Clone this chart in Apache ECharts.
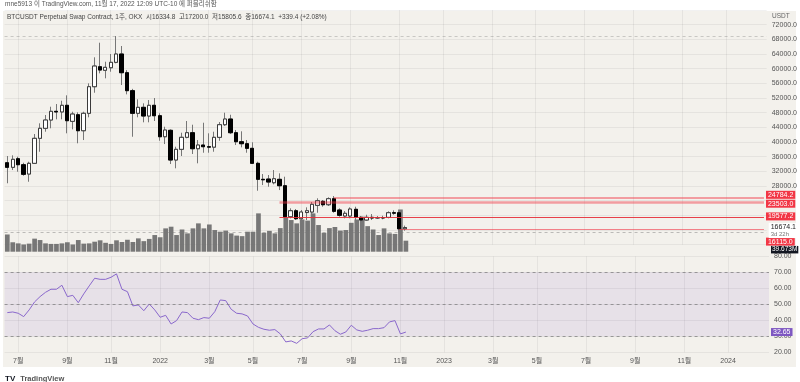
<!DOCTYPE html>
<html><head><meta charset="utf-8">
<script src="https://cdn.jsdelivr.net/npm/echarts@6/dist/echarts.min.js"></script>
<style>html,body{margin:0;padding:0;background:#fff}#c{width:800px;height:382px}</style>
</head><body><div id="c"></div>
<script>
// ---- data (weekly BTCUSDT perpetual, OKX) ----
const firstWeek = [2021, 5, 21];   // Monday 2021-06-21 (month 0-based)
const totalWeeks = 140;            // visible weekly slots incl. empty future
const opens  = [34350,33100,35450,33810,31270,34190,41010,43740,46000,48370,48200,50010,45640,47440,43080,47830,55080,60530,59550,60260,61730,64000,58900,54000,47830,49460,47090,50010,47170,41440,43190,35090,38010,41280,42540,38170,39180,38720,38600,41280,44720,46270,42540,40080,39540,38280,34190,29830,29900,28900,29830,28080,19630,21260,19080,20770,20910,22740,23830,22900,24540,21460,19820,19820,21650,19460,18730,19460,19280,19400,19460,20720,20720,16334.8];
const closes = [33100,35280,33810,31190,34190,41010,43740,46000,48370,48200,50010,45810,47630,43080,47830,55080,60720,59630,60370,61730,64000,58900,54000,47830,49460,47090,50010,47170,41440,43270,35090,38010,41280,42540,38170,39180,38720,38600,41280,44720,46270,42540,40080,39540,38280,34190,29830,29700,29090,29990,28080,19630,21260,19080,20910,21260,23010,23990,22900,24540,21100,20010,20560,21730,19460,18730,19460,19280,19400,19300,20720,20600,16334.8,16674.1];
const lows   = [28750,32360,31900,30810,29170,34100,37350,42810,43740,46190,46190,42370,43460,39650,40540,46740,53440,58730,57370,59170,61460,55540,53000,41440,46740,45370,45370,45730,40350,39450,34000,32830,36180,41010,36730,34190,37080,37080,37350,40350,44360,42180,39180,38550,37080,34000,26720,28270,27800,28460,26900,18730,19190,18730,17830,18730,19630,20720,22360,22550,20720,19630,19190,19190,18730,18540,18540,18730,19000,18920,19190,20170,15300,15805.6];
const highs  = [36180,36370,35990,34350,34630,42180,45100,47360,49630,50360,51260,52730,48260,48100,48260,56000,63100,67080,61900,64000,68900,66180,59600,54500,51640,50550,51450,52000,47830,44170,43460,38720,42540,45730,44720,40540,45260,42370,42810,45450,47990,47440,43270,42920,40540,39920,34630,31270,31000,32360,31460,30540,21920,21730,21460,22190,23640,24650,24180,24920,25270,21920,21180,22190,22360,19820,20170,20360,19820,19900,21100,21370,21450,17200.0];
const volumesM = [62,34,30,26,29,47,42,30,28,28,30,34,26,42,29,30,36,41,32,28,41,35,43,35,48,38,46,60,52,84,90,60,80,66,84,102,84,98,78,72,76,66,58,56,72,72,138,68,75,66,85,122,114,102,116,112,138,96,68,85,89,76,78,104,116,126,92,80,60,84,66,64,152,39.673];
const rsi = [44.8,45.2,44.4,42.3,46.5,51.5,54.8,57.5,59.4,59.4,61.9,54.8,55.6,51.0,56.5,61.5,66.3,65.6,65.6,66.9,69.0,59.4,57.9,49.0,49.6,46.0,50.2,46.5,41.9,43.1,37.7,39.8,45.2,44.8,41.3,40.4,41.7,41.3,45.4,52.7,52.3,46.9,44.4,44.0,42.7,37.7,35.6,34.4,33.8,34.2,31.5,26.5,27.1,25.6,28.5,29.0,32.9,34.6,34.6,37.1,33.5,31.3,32.7,36.9,34.0,33.1,33.8,34.8,34.8,35.4,39.0,39.8,31.5,32.65];
const levels = [24784.2, 23503.0, 19577.2, 16115.0];   // drawn horizontal levels
const levelStartWeek = ['2022-08-15', '2022-06-06', '2022-06-06', '2022-11-07'];
const guideLevel = 15400;          // faint dashed guide
const rsiBand = [30, 50, 70];
const priceTickRange = [28000, 72000];
const lastChange = 339.4, lastChangePct = 2.08;   // as printed in the legend
const countdown = '3d 22h';

// ---- categories ----
const cats = [];
{ let t = Date.UTC(firstWeek[0], firstWeek[1], firstWeek[2]);
  for (let i = 0; i < totalWeeks; i++) { cats.push(new Date(t).toISOString().slice(0,10)); t += 7*864e5; } }
const isLabelWeek = (idx, val) => { const d = new Date((val||cats[idx]) + 'T00:00:00Z'); return d.getUTCDate() <= 7 && d.getUTCMonth() % 2 === 0; };
const fmtLabel = (val) => { const d = new Date(val + 'T00:00:00Z'); return d.getUTCMonth() === 0 ? String(d.getUTCFullYear()) : (d.getUTCMonth()+1) + '월'; };

const FONT = "'Liberation Sans','Noto Sans CJK KR',sans-serif";
const n = opens.length;
const wickData = opens.map((o,i) => [o, closes[i], lows[i], highs[i]]);
const bodyData = opens.map((o,i) => [o, closes[i], Math.min(o,closes[i]), Math.max(o,closes[i])]);
const lastO = opens[n-1], lastH = highs[n-1], lastL = lows[n-1], lastC = closes[n-1];
const sgn = lastChange >= 0 ? '+' : '−';

const gridL = 4.57, gridR = 31;
const gridLine = { color: 'rgba(0,0,0,0.055)', width: 1 };
const HIDDEN = { color: 'rgba(0,0,0,0)', width: 1, type: 'solid' };
const boxLabel = (bg, fg, dy) => ({ show: true, position: 'end', distance: 2, offset: [0, dy], fontSize: 7, fontFamily: FONT,
  color: fg, backgroundColor: bg, padding: [1, 2, 0, 2] });
const levelOffsets = [-3, 1.2, -0.5, 12];
const levelStyles = [
  { color: 'rgba(242,54,69,0.45)', width: 2, type: 'solid' },
  { color: 'rgba(242,54,69,0.45)', width: 2.5, type: 'solid' },
  { color: 'rgba(229,45,55,0.9)', width: 1, type: 'solid' },
  { color: 'rgba(242,54,69,0.6)', width: 1, type: 'solid' }
];

const levelLines = levels.map((v, k) => ([
  { coord: [levelStartWeek[k], v], lineStyle: levelStyles[k],
    label: Object.assign(boxLabel('#f23645', '#fff', levelOffsets[k]), { formatter: v.toFixed(1) }) },
  { coord: [cats[totalWeeks-1], v] }
]));

const chart = echarts.init(document.getElementById('c'), null, { renderer: 'canvas' });
chart.setOption({
  animation: false,
  backgroundColor: '#ffffff',
  textStyle: { fontFamily: FONT },
  graphic: [
    { type: 'rect', z: -100, silent: true, shape: { x: 3, y: 11, width: 793, height: 356 }, style: { fill: '#f3f1ec' } }
  ],
  title: [
    { text: 'mne5913 이 TradingView.com, 11월 17, 2022 12:09 UTC-10 에 퍼블리쉬함', left: 5, top: 1, padding: 0,
      textStyle: { fontSize: 6.5, fontWeight: 'normal', color: '#555', fontFamily: FONT } },
    { text: 'BTCUSDT Perpetual Swap Contract, 1주, OKX  시' + lastO.toFixed(1) + '  고' + lastH.toFixed(1) + '  저' + lastL.toFixed(1) + '  종' + lastC.toFixed(1) + '  ' + sgn + Math.abs(lastChange).toFixed(1) + ' (' + sgn + Math.abs(lastChangePct).toFixed(2) + '%)',
      left: 7, top: 14, padding: 0, textStyle: { fontSize: 6.5, fontWeight: 'normal', color: '#444', fontFamily: FONT } },
    { text: 'USDT', left: 772, top: 13, padding: 0, textStyle: { fontSize: 6.5, fontWeight: 'normal', color: '#666', fontFamily: FONT } },
    { text: '{a|TV} {b|TradingView}', left: 5, top: 370, padding: 0,
      textStyle: { rich: { a: { fontSize: 8, fontWeight: 'bold', color: '#131722', fontFamily: FONT }, b: { fontSize: 7.5, color: '#555', fontFamily: FONT } } } }
  ],
  grid: [
    { left: gridL, right: gridR, top: 10, height: 234.7 },
    { left: gridL, right: gridR, top: 151.7, height: 100 },
    { left: gridL, right: gridR, top: 256.3, height: 96 }
  ],
  xAxis: [0,1,2].map(g => ({
    type: 'category', gridIndex: g, data: cats, boundaryGap: true,
    axisLine: { show: false }, axisTick: { show: false },
    axisLabel: g === 2 ? { show: true, interval: isLabelWeek, formatter: fmtLabel, fontSize: 7, color: '#555', margin: 5, fontFamily: FONT } : { show: false },
    splitLine: { show: g !== 1, interval: isLabelWeek, alignWithLabel: true, lineStyle: gridLine }
  })),
  yAxis: [
    { type: 'value', gridIndex: 0, position: 'right', min: 12000, max: 76000, interval: 4000, scale: true,
      axisLine: { show: false }, axisTick: { show: false },
      axisLabel: { fontSize: 7, color: '#555', margin: 5, fontFamily: FONT,
        formatter: v => (v >= priceTickRange[0] && v <= priceTickRange[1]) ? v.toFixed(1) : '' },
      splitLine: { show: true, lineStyle: gridLine } },
    { type: 'value', gridIndex: 1, min: 0, max: 360, show: false, splitLine: { show: false } },
    { type: 'value', gridIndex: 2, position: 'right', min: 20, max: 80, interval: 10,
      axisLine: { show: false }, axisTick: { show: false },
      axisLabel: { fontSize: 7, color: '#555', margin: 5, fontFamily: FONT, formatter: v => v.toFixed(2) },
      splitLine: { show: true, lineStyle: gridLine } }
  ],
  series: [
    { type: 'bar', name: 'Volume', xAxisIndex: 1, yAxisIndex: 1, data: volumesM, barWidth: '86%', z: 1,
      itemStyle: { color: 'rgba(108,108,108,0.92)' },
      markLine: { silent: true, symbol: ['none','none'], z: 10,
        data: [ { yAxis: volumesM[n-1], lineStyle: HIDDEN,
          label: Object.assign(boxLabel('#131722', '#fff', 9), { formatter: volumesM[n-1].toFixed(3) + 'M', fontSize: 6.5, padding: [1, 1, 0, 1] }) } ] } },
    { type: 'candlestick', name: 'wick', xAxisIndex: 0, yAxisIndex: 0, data: wickData, barWidth: '70%', z: 3,
      itemStyle: { color: '#777', color0: '#777', borderColor: '#777', borderColor0: '#777', borderWidth: 1 },
      markLine: { silent: true, symbol: ['none','none'],
        data: [
          { yAxis: Math.max(...highs), lineStyle: { color: 'rgba(120,120,120,0.35)', type: [3,3], width: 1 }, label: { show: false } },
          { yAxis: guideLevel, lineStyle: { color: 'rgba(120,120,120,0.45)', type: [3,3], width: 1 }, label: { show: false } }
        ] } },
    { type: 'candlestick', name: 'BTCUSDT', xAxisIndex: 0, yAxisIndex: 0, data: bodyData, barWidth: '70%', z: 4,
      itemStyle: { color: '#ffffff', color0: '#000000', borderColor: '#3a3a3a', borderColor0: '#000000', borderWidth: 1 },
      markLine: { silent: true, symbol: ['none','none'], z: 5,
        data: levelLines.concat([
          { yAxis: lastC, lineStyle: HIDDEN,
            label: { show: true, position: 'end', distance: 2, offset: [0, 3], backgroundColor: '#ffffff', padding: [1,2,1,2],
              formatter: '{a|' + lastC.toFixed(1) + '}\n{b|' + countdown + '}',
              rich: { a: { fontSize: 7, color: '#222', lineHeight: 7, fontFamily: FONT }, b: { fontSize: 6, color: '#777', lineHeight: 6, fontFamily: FONT } } } }
        ]) } },
    { type: 'line', name: 'RSI', xAxisIndex: 2, yAxisIndex: 2, data: rsi, symbol: 'none', z: 4,
      lineStyle: { color: '#8a68cc', width: 1 },
      markArea: { silent: true, itemStyle: { color: 'rgba(126,87,194,0.1)' }, data: [[{ yAxis: rsiBand[0] }, { yAxis: rsiBand[2] }]] },
      markLine: { silent: true, symbol: ['none','none'],
        data: rsiBand.map(v => ({ yAxis: v, lineStyle: { color: 'rgba(120,120,120,0.7)', type: [3,3], width: 1 }, label: { show: false } }))
          .concat([{ yAxis: rsi[n-1], lineStyle: HIDDEN, label: Object.assign(boxLabel('#7e57c2', '#fff', 0), { formatter: rsi[n-1].toFixed(2) }) }]) } }
  ]
});
</script></body></html>
